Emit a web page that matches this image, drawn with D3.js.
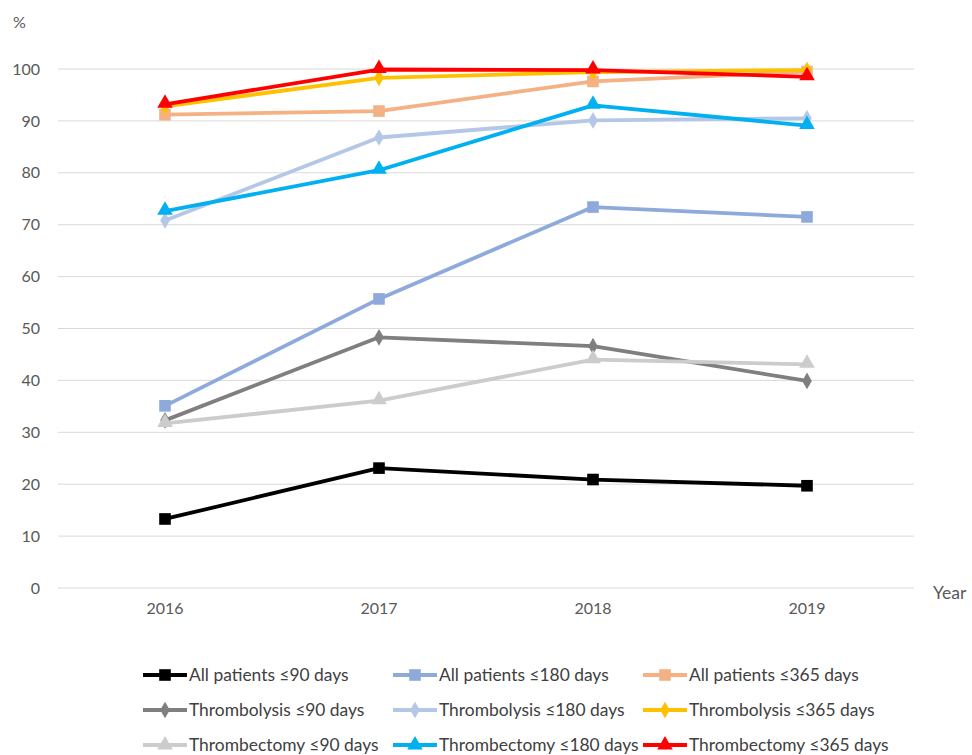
<!DOCTYPE html>
<html><head><meta charset="utf-8">
<script src="https://cdn.jsdelivr.net/npm/d3@7"></script>
<style>body{margin:0;background:#fff;} svg{display:block;} text{font-family:Lato,sans-serif;}</style>
</head><body>
<svg id="c" width="972" height="755"></svg>
<script>
const years = ["2016","2017","2018","2019"];
const yTicks = [0,10,20,30,40,50,60,70,80,90,100];
const seriesNames = [
  "All patients ≤90 days","All patients ≤180 days","All patients ≤365 days",
  "Thrombolysis ≤90 days","Thrombolysis ≤180 days","Thrombolysis ≤365 days",
  "Thrombectomy ≤90 days","Thrombectomy ≤180 days","Thrombectomy ≤365 days"];
const allPatients90 = [13.3, 23.1, 20.9, 19.7];
const allPatients180 = [35.1, 55.7, 73.4, 71.5];
const allPatients365 = [91.2, 91.9, 97.6, 99.5];
const thrombolysis90 = [32.3, 48.3, 46.6, 39.9];
const thrombolysis180 = [70.8, 86.8, 90.1, 90.5];
const thrombolysis365 = [92.8, 98.3, 99.4, 99.8];
const thrombectomy90 = [31.7, 36.1, 44.0, 43.1];
const thrombectomy180 = [72.6, 80.5, 93.0, 89.1];
const thrombectomy365 = [93.2, 99.9, 99.8, 98.5];
const seriesValues = [allPatients90, allPatients180, allPatients365,
  thrombolysis90, thrombolysis180, thrombolysis365,
  thrombectomy90, thrombectomy180, thrombectomy365];
const colors = ["#000000","#8eaadb","#f4b183","#7f7f7f","#b4c7e7","#ffc000","#cccccc","#00b0f0","#ff0000"];
const markers = ["square","square","square","diamond","diamond","diamond","triangle","triangle","triangle"];

(function(){
const svg = d3.select("#c");
const pLeft = 58, pRight = 914, pTop = 69, pBottom = 588;
const x = d3.scaleBand().domain(years).range([pLeft, pRight]);
const y = d3.scaleLinear().domain([0,100]).range([pBottom, pTop]);
const font = "Lato,sans-serif";

svg.append("g").selectAll("line").data(yTicks).join("line")
  .attr("x1", pLeft).attr("x2", pRight)
  .attr("y1", d=>y(d)).attr("y2", d=>y(d))
  .attr("stroke", "#d9d9d9").attr("stroke-width", 1);

const yAxis = d3.axisLeft(y).tickValues(yTicks).tickSize(0).tickPadding(0);
const gy = svg.append("g").attr("transform", `translate(${pLeft-18},0)`).call(yAxis);
gy.select(".domain").remove();
gy.selectAll("text").attr("font-size", 16).attr("fill", "#595959").attr("font-family", font);

const xAxis = d3.axisBottom(x).tickSize(0).tickPadding(0);
const gx = svg.append("g").attr("transform", `translate(0,${pBottom+15})`).call(xAxis);
gx.select(".domain").remove();
gx.selectAll("text").attr("font-size", 16).attr("fill", "#595959").attr("font-family", font);

svg.append("text").attr("x", 13).attr("y", 28).attr("font-size", 16).attr("fill", "#595959").text("%");
svg.append("text").attr("x", 933).attr("y", 599).attr("font-size", 17.5).attr("fill", "#595959").text("Year");

const line = d3.line().x((d,i)=>x(years[i]) + x.bandwidth()/2).y(d=>y(d));
const symType = {square: d3.symbolSquare, diamond: d3.symbolDiamond, triangle: d3.symbolTriangle};
const symSize = {square: 135, diamond: 80, triangle: 105};

function drawMarker(g, type, cx, cy, color) {
  g.append("path").attr("d", d3.symbol().type(symType[type]).size(symSize[type])())
    .attr("transform", `translate(${cx},${cy})`).attr("fill", color);
}

seriesValues.forEach((vals, k) => {
  const g = svg.append("g");
  g.append("path").attr("d", line(vals)).attr("fill", "none")
    .attr("stroke", colors[k]).attr("stroke-width", 3.8).attr("stroke-linejoin", "round");
  vals.forEach((v,i) => drawMarker(g, markers[k], x(years[i]) + x.bandwidth()/2, y(v) - (markers[k]==="triangle"?1:0), colors[k]));
});

const colX = [143, 393, 643];
const rowY = [675, 710, 745];
seriesNames.forEach((name, k) => {
  const cx = colX[k % 3], cy = rowY[Math.floor(k/3)];
  const g = svg.append("g");
  g.append("line").attr("x1", cx).attr("x2", cx+44).attr("y1", cy).attr("y2", cy)
    .attr("stroke", colors[k]).attr("stroke-width", 3.8);
  drawMarker(g, markers[k], cx+22, cy, colors[k]);
  g.append("text").attr("x", cx+46).attr("y", cy+6).attr("font-size", 17.4)
    .attr("fill", "#404040").text(name);
});
})();
</script>
</body></html>
